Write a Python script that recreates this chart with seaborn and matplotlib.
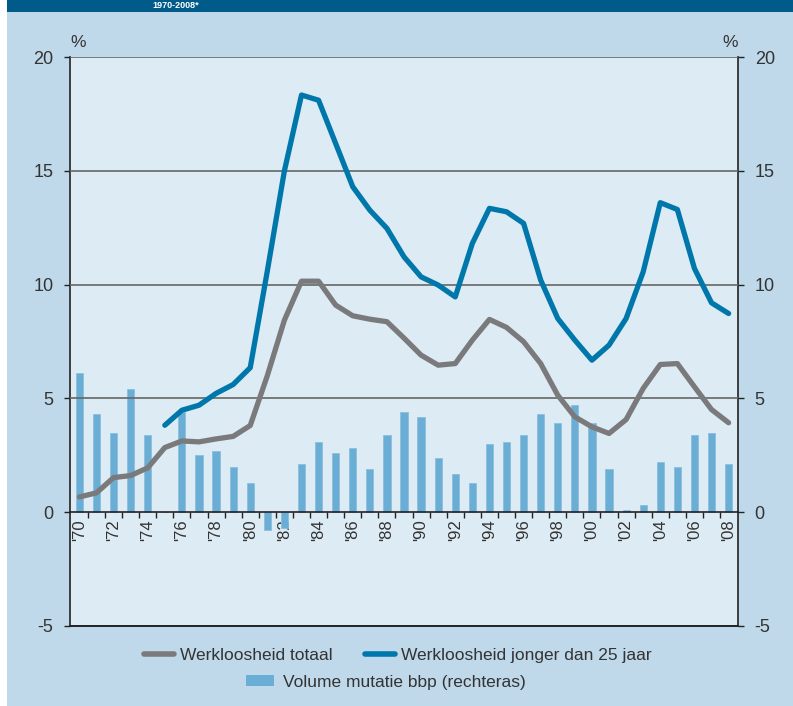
import matplotlib
matplotlib.use("Agg")
import matplotlib.pyplot as plt
import seaborn as sns
import numpy as np
from matplotlib.lines import Line2D
from matplotlib.patches import Patch, Rectangle

# data
years = list(range(1970, 2009))
year_labels = ["'" + str(y)[2:] if y % 2 == 0 else "" for y in years]

totaal = [0.67, 0.85, 1.52, 1.61, 1.95, 2.84, 3.13, 3.09, 3.22, 3.33,
          3.81, 6.0, 8.44, 10.15, 10.15, 9.1, 8.63, 8.48, 8.37, 7.65,
          6.9, 6.46, 6.53, 7.56, 8.47, 8.12, 7.49, 6.53, 5.14, 4.19,
          3.75, 3.46, 4.07, 5.44, 6.49, 6.53, 5.51, 4.51, 3.93]

jongeren = [np.nan, np.nan, np.nan, np.nan, np.nan, 3.82, 4.48, 4.70, 5.22, 5.61,
            6.35, 10.6, 15.0, 18.33, 18.1, 16.2, 14.3, 13.27, 12.47, 11.22,
            10.34, 9.98, 9.46, 11.81, 13.35, 13.2, 12.69, 10.2, 8.51, 7.56,
            6.68, 7.34, 8.51, 10.56, 13.6, 13.3, 10.71, 9.2, 8.73]

bbp = [6.1, 4.3, 3.5, 5.4, 3.4, 0.0, 4.4, 2.5, 2.7, 2.0,
       1.3, -0.8, -0.7, 2.1, 3.1, 2.6, 2.8, 1.9, 3.4, 4.4,
       4.2, 2.4, 1.7, 1.3, 3.0, 3.1, 3.4, 4.3, 3.9, 4.7,
       3.9, 1.9, 0.1, 0.3, 2.2, 2.0, 3.4, 3.5, 2.1]

outer_bg = "#bfd9ea"
plot_bg = "#ddebf4"
header = "#005b8a"
grey = "#7a7a7c"
blue = "#0077aa"
bar_col = "#6aaed5"
txt = "#333333"

sns.set_theme(style="white")
plt.rcParams['font.family'] = ['Liberation Sans', 'DejaVu Sans']

W, H = 793, 706
fig = plt.figure(figsize=(W / 100, H / 100), dpi=100, facecolor="white")

# background panel and header band
fig.patches.append(Rectangle((7 / W, 0), 1, 1, transform=fig.transFigure,
                             facecolor=outer_bg, edgecolor="none", zorder=-10))
fig.patches.append(Rectangle((7 / W, 1 - 12 / H), 1, 12 / H, transform=fig.transFigure,
                             facecolor=header, edgecolor="none", zorder=-9))
fig.text(152 / W, 1 - 6 / H, "1970-2008*", color="white", fontsize=6.5,
         fontweight="bold", va="center", ha="left")

ax = fig.add_axes([70 / W, 80 / H, 668 / W, 569 / H])
ax.set_facecolor(plot_bg)

idx = np.arange(len(years))
sns.barplot(x=idx, y=bbp, color=bar_col, width=0.42, saturation=1,
            edgecolor="#8cc0de", linewidth=0.6, ax=ax, zorder=2)
for gy in [5, 10, 15, 20]:
    ax.axhline(gy, color="#666666", lw=1.2, zorder=3)
sns.lineplot(x=idx, y=totaal, color=grey, lw=3.8, ax=ax, zorder=4,
             solid_capstyle="round", solid_joinstyle="round")
sns.lineplot(x=idx[5:], y=jongeren[5:], color=blue, lw=3.8, ax=ax, zorder=5,
             solid_capstyle="round", solid_joinstyle="round")

ax.set_xlim(-0.55, len(years) - 0.45)
ax.set_ylim(-5, 20)

# axis at zero with labels there
ax.spines['bottom'].set_position(('data', 0))
ax.spines['bottom'].set_color("#222222")
ax.spines['bottom'].set_linewidth(1.2)
ax.spines['bottom'].set_zorder(6)
ax.spines['top'].set_visible(False)
for s in ['left', 'right']:
    ax.spines[s].set_color("#222222")
    ax.spines[s].set_linewidth(1.2)
ax.axhline(-5, color="#222222", lw=1.4, clip_on=False, zorder=6)

ax.set_xticks(idx)
ax.set_xticklabels(year_labels, rotation=90, fontsize=12, color=txt)
ax.tick_params(axis='x', which='major', length=0, pad=5)
ax.set_xticks(idx[1:] - 0.5, minor=True)
ax.tick_params(axis='x', which='minor', length=4, width=1, color="#222222",
               direction="out", bottom=True)

ax.set_yticks([-5, 0, 5, 10, 15, 20])
ax.set_yticklabels(["-5", "0", "5", "10", "15", "20"])
ax.tick_params(axis='y', which='major', left=True, right=True, labelleft=True,
               labelright=True, length=4, width=1, color="#222222",
               direction="out", labelsize=13, labelcolor=txt, pad=8)
ax.set_xlabel("")
ax.set_ylabel("")

ax.text(0.0, 1.012, "%", transform=ax.transAxes, fontsize=12.5, color=txt,
        ha="left", va="bottom")
ax.text(1.0, 1.012, "%", transform=ax.transAxes, fontsize=12.5, color=txt,
        ha="right", va="bottom")

# legend: two rows, centred
h1 = [Line2D([0], [0], color=grey, lw=4, solid_capstyle="round"),
      Line2D([0], [0], color=blue, lw=4, solid_capstyle="round")]
fig.legend(h1, ["Werkloosheid totaal", "Werkloosheid jonger dan 25 jaar"],
           loc="center", bbox_to_anchor=(398 / W, 1 - 655 / H), ncol=2,
           frameon=False, fontsize=12.5, handlelength=1.7, handletextpad=0.35,
           columnspacing=1.9, labelcolor=txt)
h2 = [Patch(facecolor=bar_col, edgecolor="none")]
fig.legend(h2, ["Volume mutatie bbp (rechteras)"], loc="center",
           bbox_to_anchor=(386 / W, 1 - 682 / H), frameon=False, fontsize=12.5,
           handlelength=1.6, handleheight=0.6, handletextpad=0.5, labelcolor=txt)

fig.savefig("out.png", dpi=100, facecolor=fig.get_facecolor())
